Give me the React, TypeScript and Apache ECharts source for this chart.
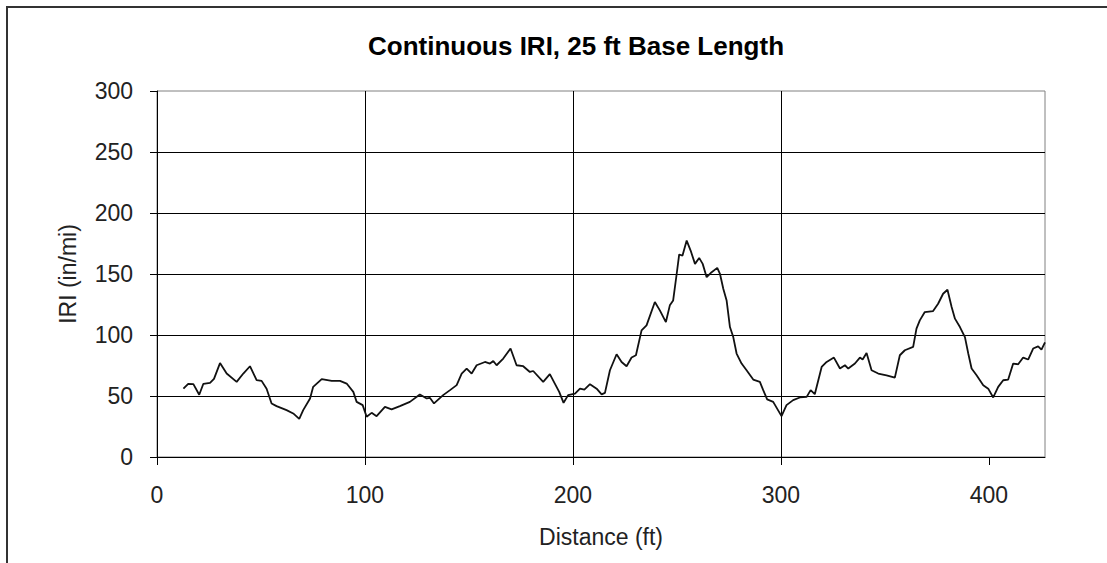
import React, { useEffect, useRef } from "react";
import * as echarts from "echarts";

const distance = [
  12.7, 15, 17.5, 20.3, 22.3, 25.5, 27.4, 30.3, 33.5, 38.3, 41.5, 44.7, 47.9, 50.3, 52.7, 55.1, 57.5, 62.3, 65.5, 68.4,
  70.3, 73.6, 75.1, 79.2, 84, 88, 91.2, 94.4, 96, 98.9, 100.8,
  103.2, 105.6, 109.6, 112.8, 116.8, 121.6, 126.4, 129.7, 131.2, 133.2, 137.6, 140.9, 144.1, 146.5, 148.9, 151.3, 153.7,
  157.7, 160.1, 161.7, 163.3, 166.5, 170, 172.9, 176.1, 179.3, 180.9, 185.7, 188.9, 191.3, 193.4, 195.5, 197.7, 201,
  203.4, 205.5, 208.2, 211.4, 213.8, 215.4, 217.8, 221, 223.4, 225.8, 228.2, 230.3, 233, 235.4, 239.4, 241.8, 244.7,
  246.6, 248.2, 249.9, 251.1, 252.7, 254.7, 256.6, 258.7, 260.7, 262.4, 264.3, 266.7, 269.4, 270.7, 272.3, 273.9,
  275.5, 277.1, 278.7, 281.1, 283.5, 286.7, 289.9, 291.5, 293.4, 296.3, 300.3,
  302.7, 305.9, 309.1, 312.4, 314.3, 316.3, 319.6, 322, 325.5, 328.4, 330.8, 332.4, 335.6, 338, 339.3, 341.2, 343.6,
  346.8, 350.8, 354.8, 357.2, 359.6, 363.6, 365.2, 366.8, 369.2, 373.2, 375.6, 378, 380.1, 382.1, 383.7, 386.1, 388.5,
  390.1, 391.7, 394.1, 397.3, 399.7, 402.1, 404.5, 406.9, 409.3, 411.7, 414.1, 416.5, 418.9, 421.3, 423.7, 425.3, 427,
];

const iri = [
  56, 60, 59.7, 51, 60, 60.7, 64, 77, 68.4, 61.6, 68.4, 74.4, 63, 62.4, 56, 43.9, 41.7, 38.4, 35.7, 31.3,
  38.4, 48, 57.5, 63.8, 62.4, 62.4, 60.2, 53.4, 45.2, 42.5, 33,
  36.2, 33.5, 41.1, 39, 41.7, 45.2, 51.3, 48, 48.5, 43.9, 50.7, 54.8, 58.9, 68.4, 72.5, 68.4, 75.2,
  77.9, 76.6, 78.7, 75.2, 80.7, 88.9, 75.2, 74.4, 69.7, 70.5, 61.6, 67.9, 60.2, 53.4, 44.4, 50.7, 52,
  56, 55.3, 59.7, 56, 51.3, 52.6, 71.1, 84.2, 77.9, 74.4, 81.5, 83.4, 103.8, 107.9, 127, 120.2, 110.6,
  124.3, 128.3, 150.2, 166, 165.1, 177.4, 169.2, 158.3, 163.2, 158.3, 147.4, 151.5, 155, 150.2, 137.9, 128.3,
  106.5, 98.3, 84.8, 76.6, 71.1, 63.5, 61.6, 54.8, 47.2, 45.2, 33.5,
  42.5, 46.6, 48.8, 49.3, 54.8, 51.5, 73.8, 77.9, 81.5, 72.5, 75.2, 72.5, 76.6, 81.5, 79.9, 85.3, 71.1,
  68.4, 67, 65.1, 83.4, 87.5, 90.2, 105.2, 112, 118.8, 119.6, 125.6, 133.8, 137.1, 122.9, 113.4, 106.5, 98.3,
  84.8, 72.5, 67, 58.9, 56, 48.8, 57.5, 62.9, 63.5, 76.6, 76, 81.5, 79.9, 88.9, 90.7, 88, 94,
];

const xTicks = [0, 100, 200, 300, 400];
const yTicks = [0, 50, 100, 150, 200, 250, 300];

const FONT = "'Liberation Sans', Arial, sans-serif";

export default function App() {
  const ref = useRef<HTMLDivElement>(null);
  useEffect(() => {
    const chart = echarts.init(ref.current!, null, { renderer: "svg" });
    const data = distance.map((d, i) => [d, iri[i]]);
    chart.setOption({
      animation: false,
      backgroundColor: "#ffffff",
      title: {
        text: "Continuous IRI, 25 ft Base Length",
        left: 363,
        top: 28,
        textStyle: { fontFamily: FONT, fontSize: 26, fontWeight: "bold", color: "#000" },
      },
      graphic: [
        {
          type: "rect",
          shape: { x: 7, y: 7, width: 1300, height: 800 },
          style: { fill: "none", stroke: "#333", lineWidth: 2 },
          silent: true,
        },
      ],
      grid: {
        left: 157,
        top: 91,
        right: 62,
        bottom: 106,
        show: true,
        borderColor: "#808080",
        borderWidth: 1,
      },
      xAxis: {
        type: "value",
        min: 0,
        max: 427,
        interval: 100,
        name: "Distance (ft)",
        nameLocation: "middle",
        nameGap: 68,
        nameTextStyle: { fontFamily: FONT, fontSize: 23, color: "#222" },
        axisLine: { show: true, onZero: false, lineStyle: { color: "#000", width: 1 } },
        axisTick: { show: true, length: 8, customValues: xTicks, lineStyle: { color: "#000" } },
        axisLabel: {
          customValues: xTicks,
          margin: 26,
          fontFamily: FONT,
          fontSize: 23,
          color: "#222",
          formatter: (v: number) => (v % 100 === 0 ? String(v) : ""),
        },
        splitLine: { show: true, showMinLine: false, showMaxLine: false, lineStyle: { color: "#000", width: 1 } },
      },
      yAxis: {
        type: "value",
        min: 0,
        max: 300,
        interval: 50,
        name: "IRI (in/mi)",
        nameLocation: "middle",
        nameGap: 78,
        nameTextStyle: { fontFamily: FONT, fontSize: 23, color: "#222" },
        axisLine: { show: true, lineStyle: { color: "#000", width: 1 } },
        axisTick: { show: true, length: 7, customValues: yTicks, lineStyle: { color: "#000" } },
        axisLabel: { margin: 24, fontFamily: FONT, fontSize: 23, color: "#222" },
        splitLine: { show: true, showMinLine: false, showMaxLine: false, lineStyle: { color: "#000", width: 1 } },
      },
      series: [
        {
          type: "line",
          data,
          showSymbol: false,
          symbol: "none",
          lineStyle: { color: "#111", width: 1.8 },
          clip: true,
        },
      ],
    });
    return () => chart.dispose();
  }, []);
  return (
    <div
      ref={ref}
      style={{ position: "absolute", left: 0, top: 0, width: 1107, height: 563, background: "#fff" }}
    />
  );
}
